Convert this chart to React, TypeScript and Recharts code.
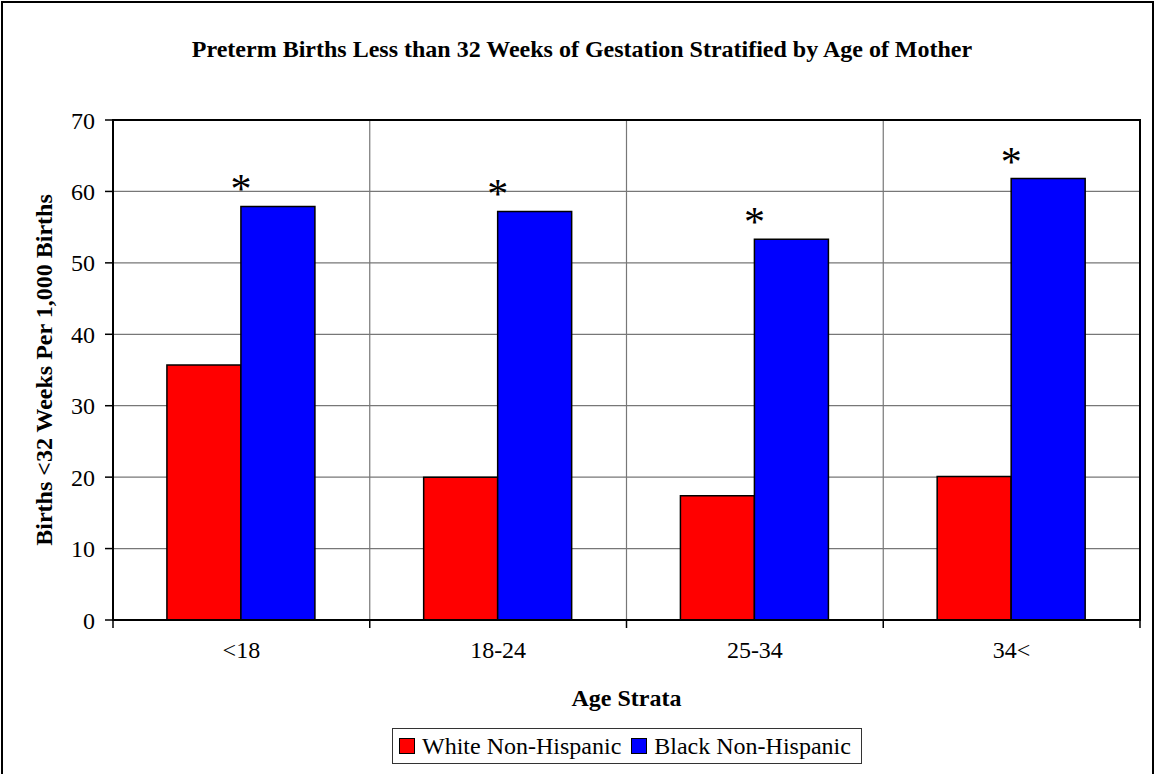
import { BarChart, Bar, XAxis, YAxis, CartesianGrid, Legend, LabelList, ReferenceArea } from 'recharts';

// age groups and rates per 1,000 births
const categories = ['<18', '18-24', '25-34', '34<'];
const whiteRates = [35.7, 20.0, 17.4, 20.1];
const blackRates = [57.9, 57.2, 53.3, 61.8];
const yTicks = [0, 10, 20, 30, 40, 50, 60, 70];

const SERIES = [
  { key: 'white', name: 'White Non-Hispanic', color: '#ff0000' },
  { key: 'black', name: 'Black Non-Hispanic', color: '#0000ff' },
];

const FONT = '"Liberation Serif", "Times New Roman", Times, serif';

const W = 1155;
const H = 774;
const Y_AXIS_W = 60;
const X_AXIS_H = 30;
const MARGIN = { top: 120, right: 15, bottom: 124, left: 53 };
const PLOT_W = W - MARGIN.left - Y_AXIS_W - MARGIN.right;
const BAND = PLOT_W / categories.length;

const data = categories.map((age, i) => ({
  age,
  white: whiteRates[i],
  black: blackRates[i],
}));

function XTick(props: any) {
  const { x, y, payload, index } = props;
  const half = BAND / 2;
  const last = index === categories.length - 1;
  return (
    <g>
      <line x1={x - half} x2={x - half} y1={y} y2={y + 8} stroke="#000" strokeWidth={1.5} />
      {last && <line x1={x + half} x2={x + half} y1={y} y2={y + 8} stroke="#000" strokeWidth={1.5} />}
      <text x={x} y={y + 38} textAnchor="middle" fontSize={24} fontFamily={FONT} fill="#000">
        {payload.value}
      </text>
    </g>
  );
}

// significance marker sits over the left edge of the black bar
function Star(props: any) {
  const { x, y } = props;
  return (
    <text x={x} y={y - 3} textAnchor="middle" fontSize={42} fontFamily={FONT} fill="#000">
      *
    </text>
  );
}

function LegendBox() {
  return (
    <div
      style={{
        display: 'flex',
        alignItems: 'center',
        height: 34,
        border: '1.5px solid #333',
        padding: '0 10px 0 6px',
        fontFamily: FONT,
        fontSize: 24,
        color: '#000',
        background: '#fff',
        whiteSpace: 'nowrap',
      }}
    >
      {SERIES.map((s, i) => (
        <span key={s.key} style={{ display: 'flex', alignItems: 'center', marginLeft: i ? 10 : 0 }}>
          <span
            style={{
              width: 14,
              height: 14,
              background: s.color,
              border: '1.5px solid #000',
              marginRight: 7,
              display: 'inline-block',
            }}
          />
          {s.name}
        </span>
      ))}
    </div>
  );
}

export default function App() {
  return (
    <div style={{ position: 'absolute', left: 0, top: 0, width: W, height: H, overflow: 'hidden', background: '#fff' }}>
      <div
        style={{
          position: 'absolute',
          left: 1,
          top: 1,
          width: W - 2,
          height: H + 20,
          border: '2px solid #000',
          boxSizing: 'border-box',
        }}
      />
      <div
        style={{
          position: 'absolute',
          left: 0,
          top: 36,
          width: 1164,
          textAlign: 'center',
          fontFamily: FONT,
          fontWeight: 'bold',
          fontSize: 24,
          color: '#000',
        }}
      >
        Preterm Births Less than 32 Weeks of Gestation Stratified by Age of Mother
      </div>
      <BarChart
        width={W}
        height={H}
        data={data}
        margin={MARGIN}
        barCategoryGap="21%"
        barGap={0}
        style={{ position: 'absolute', left: 0, top: 0 }}
      >
        <CartesianGrid
          stroke="#777"
          strokeWidth={1.2}
          verticalCoordinatesGenerator={({ offset }: any) =>
            categories.slice(1).map((_, i) => offset.left + (offset.width * (i + 1)) / categories.length)
          }
        />
        <XAxis
          dataKey="age"
          height={X_AXIS_H}
          axisLine={{ stroke: '#000', strokeWidth: 2 }}
          tickLine={false}
          tickSize={0}
          tickMargin={0}
          tick={<XTick />}
          interval={0}
          label={({ viewBox }: any) => (
            <text
              x={viewBox.x + viewBox.width / 2}
              y={viewBox.y + 86}
              textAnchor="middle"
              fontSize={24}
              fontWeight="bold"
              fontFamily={FONT}
              fill="#000"
            >
              Age Strata
            </text>
          )}
        />
        <YAxis
          width={Y_AXIS_W}
          domain={[0, 70]}
          ticks={yTicks}
          interval={0}
          axisLine={{ stroke: '#000', strokeWidth: 2 }}
          tickLine={{ stroke: '#000', strokeWidth: 1.5 }}
          tickSize={8}
          tickMargin={10}
          tick={{ fontSize: 24, fontFamily: FONT, fill: '#000' }}
          label={({ viewBox }: any) => {
            const cx = viewBox.x - 9;
            const cy = viewBox.y + viewBox.height / 2;
            return (
              <text
                x={cx}
                y={cy}
                transform={`rotate(-90, ${cx}, ${cy})`}
                textAnchor="middle"
                dominantBaseline="central"
                fontSize={24}
                fontWeight="bold"
                fontFamily={FONT}
                fill="#000"
              >
                Births &lt;32 Weeks Per 1,000 Births
              </text>
            );
          }}
        />
        {SERIES.map((s) => (
          <Bar
            key={s.key}
            dataKey={s.key}
            name={s.name}
            fill={s.color}
            stroke="#000"
            strokeWidth={1.5}
            isAnimationActive={false}
          >
            {s.key === 'black' && <LabelList dataKey="black" content={<Star />} />}
          </Bar>
        ))}
        <ReferenceArea y1={0} y2={70} fill="none" stroke="#000" strokeWidth={2} ifOverflow="visible" />
        <Legend
          layout="vertical"
          align="center"
          verticalAlign="middle"
          content={<LegendBox />}
          wrapperStyle={{ position: 'absolute', left: 392, top: 728, width: 'auto', height: 'auto' }}
        />
      </BarChart>
    </div>
  );
}
